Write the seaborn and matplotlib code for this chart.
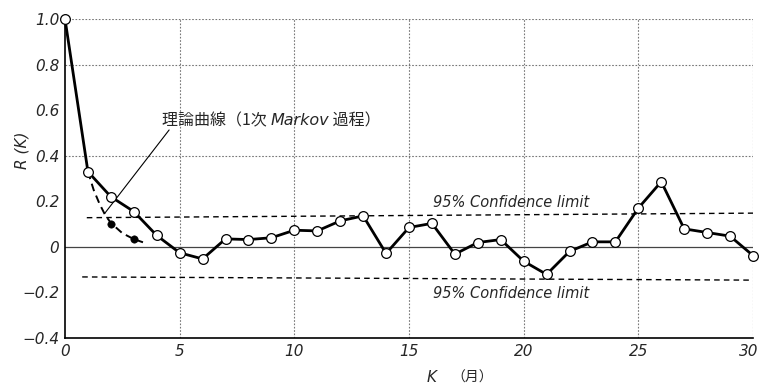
import matplotlib
matplotlib.use("Agg")
import matplotlib.pyplot as plt
import matplotlib.transforms as mtransforms
import seaborn as sns
import pandas as pd

# ---- data ----
lag_k = list(range(0, 31))
r_k = [1.00, 0.33, 0.22, 0.155, 0.05, -0.026, -0.053, 0.035, 0.032, 0.04,
       0.073, 0.07, 0.114, 0.136, -0.029, 0.085, 0.103, -0.032, 0.019, 0.032,
       -0.063, -0.121, -0.02, 0.022, 0.022, 0.17, 0.286, 0.079, 0.063, 0.047,
       -0.038]

theory_k = [1.0, 1.25, 1.5, 1.75, 2.0, 2.5, 3.0, 3.4]
theory_r = [0.33, 0.25, 0.19, 0.14, 0.105, 0.06, 0.034, 0.02]
theory_pts_k = [2, 3]
theory_pts_r = [0.10, 0.034]

conf_up_k = [0.95, 30]
conf_up_r = [0.128, 0.148]
conf_lo_k = [0.75, 30]
conf_lo_r = [-0.132, -0.146]

x_ticks = [0, 5, 10, 15, 20, 25, 30]
y_ticks = [-0.4, -0.2, 0.0, 0.2, 0.4, 0.6, 0.8, 1.0]
y_tick_labels = ["−0.4", "−0.2", "0", "0.2", "0.4", "0.6", "0.8", "1.0"]
conf_label = "95% Confidence limit"
note_parts = ["理論曲線（1次 ", "Markov", " 過程）"]

sns.set_style("white")
plt.rcParams['font.family'] = ['DejaVu Sans', 'Noto Sans CJK JP']
cjk = ['Noto Sans CJK JP', 'DejaVu Sans']

fig = plt.figure(figsize=(7.6, 3.9), dpi=100)
ax = fig.add_axes([65/760, 1-338/390, (753-65)/760, (338-19)/390])

df = pd.DataFrame({"K": lag_k, "R": r_k})
dft = pd.DataFrame({"K": theory_k, "R": theory_r})
dfp = pd.DataFrame({"K": theory_pts_k, "R": theory_pts_r})
dfu = pd.DataFrame({"K": conf_up_k, "R": conf_up_r})
dfl = pd.DataFrame({"K": conf_lo_k, "R": conf_lo_r})

# grid
for xv in [5, 10, 15, 20, 25, 30]:
    ax.axvline(xv, color="#777777", lw=0.8, ls=(0, (1.5, 1.5)), zorder=0)
for yv in [0.4, 0.8, 1.0]:
    ax.axhline(yv, color="#777777", lw=0.8, ls=(0, (1.5, 1.5)), zorder=0)
ax.axhline(0, color="#444444", lw=0.9, zorder=0)

sns.lineplot(data=dfu, x="K", y="R", ax=ax, color="black", lw=1.0,
             linestyle=(0, (4, 3)), zorder=1)
sns.lineplot(data=dfl, x="K", y="R", ax=ax, color="black", lw=1.0,
             linestyle=(0, (4, 3)), zorder=1)
sns.lineplot(data=dft, x="K", y="R", ax=ax, color="black", lw=1.4,
             linestyle=(0, (4, 2.5)), zorder=2)
sns.scatterplot(data=dfp, x="K", y="R", ax=ax, color="black", s=28,
                edgecolor="black", zorder=3)
sns.lineplot(data=df, x="K", y="R", ax=ax, color="black", lw=2.0,
             marker="o", markersize=7, markerfacecolor="white",
             markeredgecolor="black", markeredgewidth=0.9, zorder=4)
ax.lines[-1].set_clip_on(False)

ax.set_xlim(0, 30)
ax.set_ylim(-0.4, 1.0)
ax.set_xticks(x_ticks)
ax.set_xticklabels([str(v) for v in x_ticks], fontsize=11, style="italic")
ax.set_yticks(y_ticks)
ax.set_yticklabels(y_tick_labels, fontsize=11, style="italic")
ax.tick_params(axis="both", direction="in", length=4, width=0.8, pad=4)
last = ax.get_xticklabels()[-1]
last.set_transform(last.get_transform() +
                   mtransforms.ScaledTranslation(-4/100, 0, fig.dpi_scale_trans))
for s in ["top", "right"]:
    ax.spines[s].set_visible(False)
for s in ["left", "bottom"]:
    ax.spines[s].set_linewidth(1.2)
    ax.spines[s].set_color("black")
ax.set_xlabel("")
ax.set_ylabel("")

fig.text(22/760, 1-150/390, "R (K)", rotation=90, ha="center", va="center",
         fontsize=11, style="italic")
fig.text(432/760, 1-378/390, "K", ha="center", va="center",
         fontsize=11, style="italic")
fig.text(472/760, 1-378/390, "（月）", ha="center", va="center",
         fontsize=10, family=cjk)

ax.text(19.45, 0.195, conf_label, ha="center", va="center", fontsize=10.5,
        style="italic")
ax.text(19.45, -0.205, conf_label, ha="center", va="center", fontsize=10.5,
        style="italic")

# leader line of the annotation
ax.annotate("", xy=(1.74, 0.148), xytext=(4.54, 0.513),
            arrowprops=dict(arrowstyle="-", color="black", lw=0.8,
                            shrinkA=0, shrinkB=0))
t1 = ax.text(4.23, 0.553, note_parts[0], ha="left", va="center",
             fontsize=11.5, family=cjk)
t2 = ax.annotate(note_parts[1], xy=(1, 0.5), xycoords=t1, ha="left",
                 va="center", fontsize=11.5, style="italic")
t3 = ax.annotate(note_parts[2], xy=(1, 0.5), xycoords=t2, ha="left",
                 va="center", fontsize=11.5, family=cjk)

fig.savefig("out.png", dpi=100)
